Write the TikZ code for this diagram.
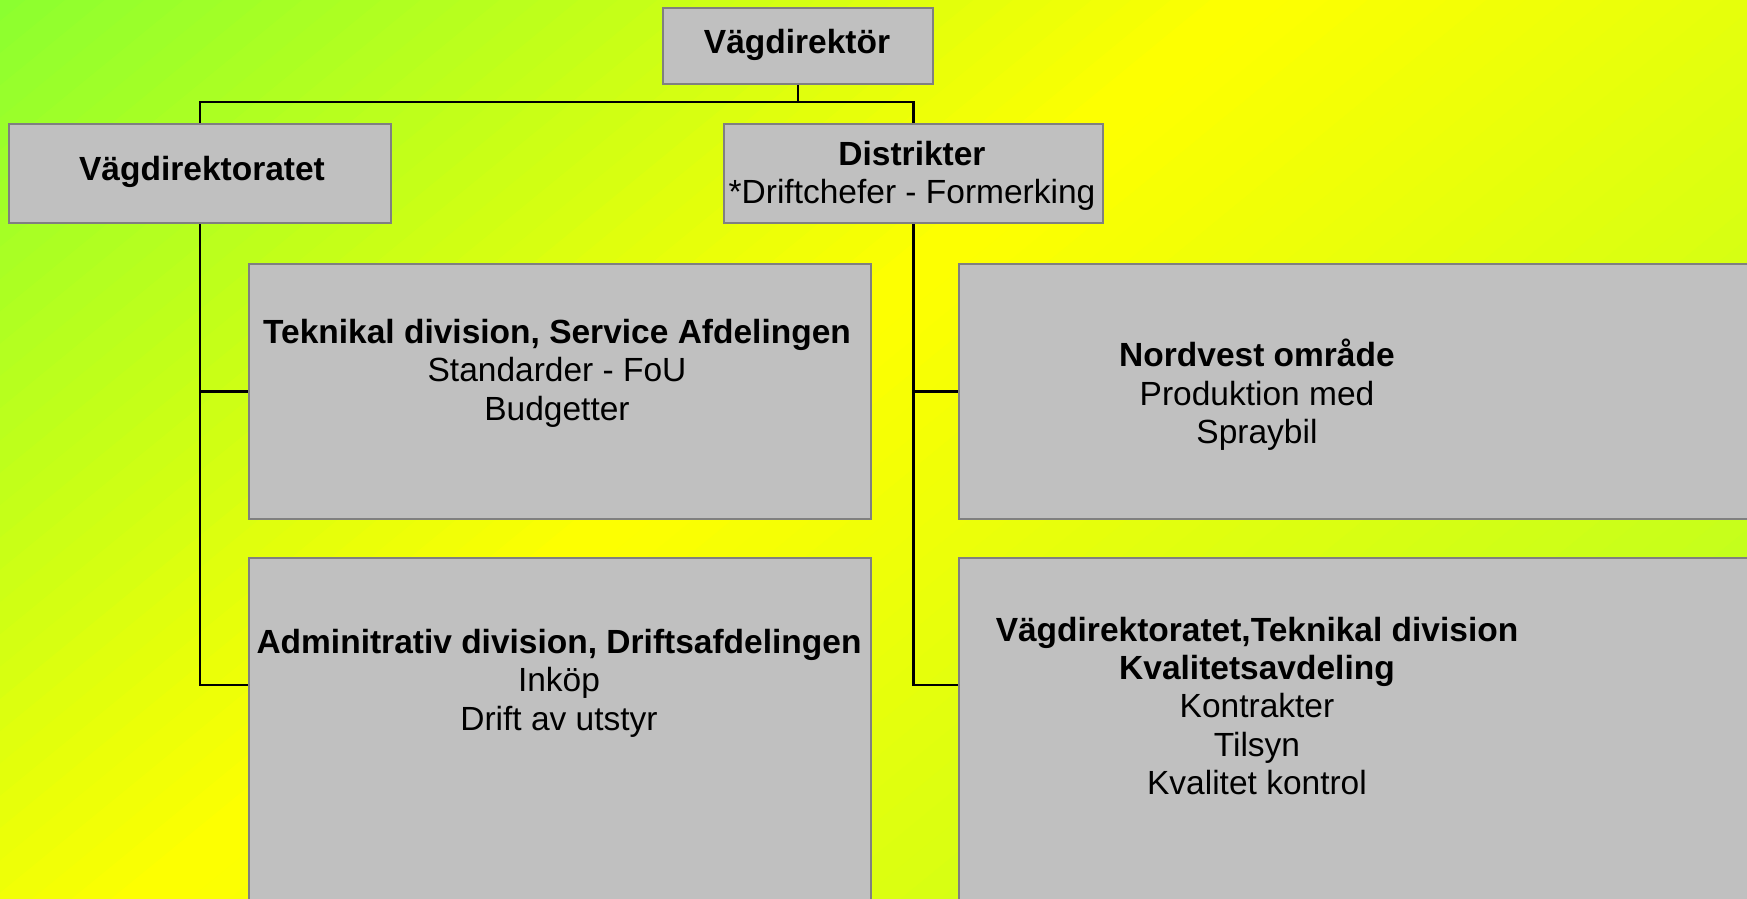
\documentclass[tikz,border=0pt]{standalone}
\usepackage{fontspec}
\setmainfont{Liberation Sans}
\usetikzlibrary{calc}
\definecolor{bgtop}{RGB}{135,255,50}
\definecolor{bgmid}{RGB}{255,255,0}
\definecolor{bgbot}{RGB}{170,255,40}
\definecolor{boxfill}{RGB}{192,192,192}
\definecolor{boxline}{RGB}{128,128,128}
\tikzset{
  orgbox/.style={draw=boxline, fill=boxfill, line width=1pt, inner sep=0pt,
    anchor=north west, rectangle},
  orgtext/.style={align=center, inner sep=0pt, text=black,
    font=\fontsize{16.75}{19.2}\selectfont},
  link/.style={draw=black, line width=1.1pt}
}
\begin{document}
\begin{tikzpicture}[x=0.5pt,y=-0.5pt]
\useasboundingbox (0,0) rectangle (1747,899);
\clip (0,0) rectangle (1747,899);
% background: diagonal gradient green - yellow - green, built from strips
\foreach \i in {0,...,75}{
  \pgfmathsetmacro\sa{-850+25*\i}
  \pgfmathsetmacro\sb{\sa+26}
  \pgfmathsetmacro\sm{\sa+12.5}
  \pgfmathtruncatemacro\isneg{\sm<0 ? 1 : 0}
  \ifnum\isneg=1
    \pgfmathtruncatemacro\pct{max(0,min(100,100*(1+\sm/820)))}
    \colorlet{stripcol}{bgmid!\pct!bgtop}
  \else
    \pgfmathtruncatemacro\pct{max(0,min(100,100*(1-\sm/1080)))}
    \colorlet{stripcol}{bgmid!\pct!bgbot}
  \fi
  \pgfmathsetmacro\xa{736+\sa*0.633-2000*0.774}
  \pgfmathsetmacro\ya{420+\sa*0.774+2000*0.633}
  \pgfmathsetmacro\xb{736+\sa*0.633+2000*0.774}
  \pgfmathsetmacro\yb{420+\sa*0.774-2000*0.633}
  \pgfmathsetmacro\xc{736+\sb*0.633+2000*0.774}
  \pgfmathsetmacro\yc{420+\sb*0.774-2000*0.633}
  \pgfmathsetmacro\xd{736+\sb*0.633-2000*0.774}
  \pgfmathsetmacro\yd{420+\sb*0.774+2000*0.633}
  \fill[stripcol] (\xa,\ya) -- (\xb,\yb) -- (\xc,\yc) -- (\xd,\yd) -- cycle;
}
% boxes
\node[orgbox, minimum width=135pt, minimum height=38pt] (dir) at (662,7) {};
\node[orgbox, minimum width=191pt, minimum height=49.5pt] (vdir) at (8,123) {};
\node[orgbox, minimum width=189.5pt, minimum height=49.5pt] (distr) at (723,123) {};
\node[orgbox, minimum width=311pt, minimum height=127.5pt] (tek) at (248,263) {};
\node[orgbox, minimum width=311pt, minimum height=200pt] (adm) at (248,557) {};
\node[orgbox, minimum width=425pt, minimum height=127.5pt] (nord) at (958,263) {};
\node[orgbox, minimum width=425pt, minimum height=200pt] (vtek) at (958,557) {};
% connectors
\coordinate (hub) at ($(dir.south)+(0,17)$);
\coordinate (admin) at ($(adm.north west)+(0,128)$);
\coordinate (vtekin) at ($(vtek.north west)+(0,128)$);
\draw[link] (dir.south) -- (hub);
\draw[link] (vdir.north) |- (hub) -| (distr.north);
\draw[link] (vdir.south) |- (tek.west);
\draw[link] (vdir.south) |- (admin);
\draw[link] (distr.south) |- (nord.west);
\draw[link] (distr.south) |- (vtekin);
% texts
\node[orgtext] (tdir) at (797,45) {\textbf{Vägdirektör}};
\node[orgtext] (tvdir) at (202,172) {\textbf{Vägdirektoratet}};
\node[orgtext] (tdistr) at (912,176) {\textbf{Distrikter}\\*Driftchefer - Formerking};
\node[orgtext] (ttek) at (557,373) {\textbf{Teknikal division, Service Afdelingen}\\Standarder - FoU\\Budgetter};
\node[orgtext] (tnord) at (1257,395) {\textbf{Nordvest område}\\Produktion med\\Spraybil};
\node[orgtext] (tadm) at (559,683) {\textbf{Adminitrativ division, Driftsafdelingen}\\Inköp\\Drift av utstyr};
\node[orgtext] (tvtek) at (1257,706) {\textbf{Vägdirektoratet,Teknikal division}\\\textbf{Kvalitetsavdeling}\\Kontrakter\\Tilsyn\\Kvalitet kontrol};
\end{tikzpicture}
\end{document}
